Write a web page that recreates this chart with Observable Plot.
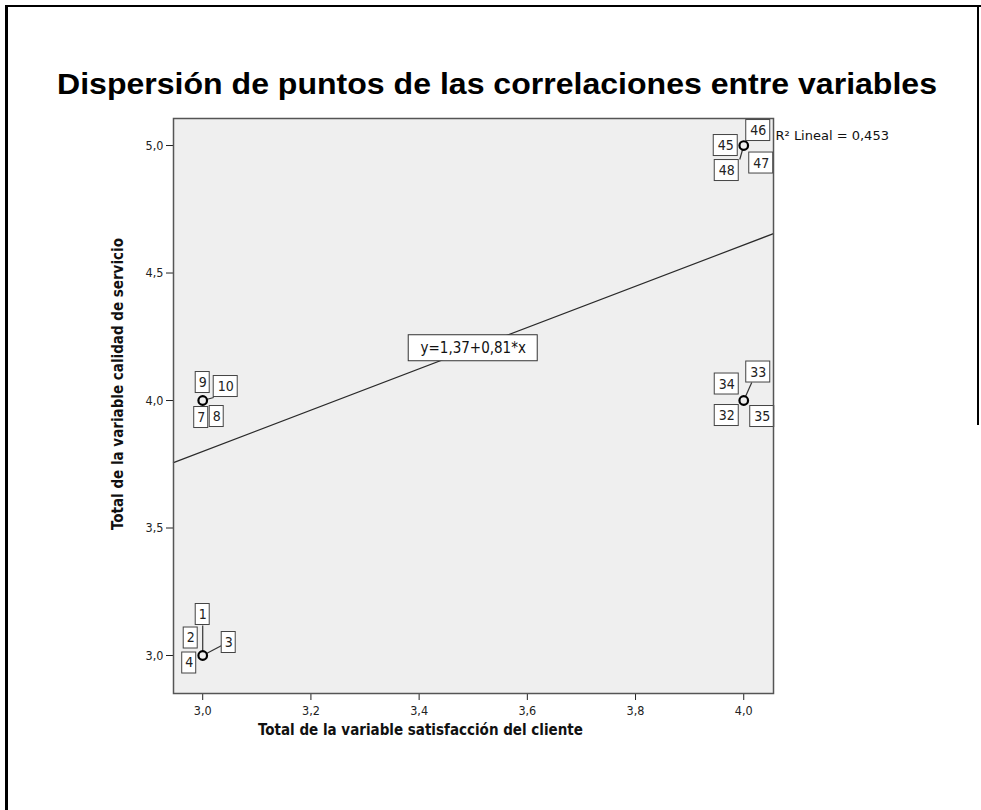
<!DOCTYPE html>
<html>
<head>
<meta charset="utf-8">
<script src="https://cdn.jsdelivr.net/npm/d3@7"></script>
<script src="https://cdn.jsdelivr.net/npm/@observablehq/plot@0.6"></script>
<style>
  html, body { margin: 0; padding: 0; background: #fff; }
  #page { position: relative; width: 981px; height: 810px; overflow: hidden; }
  #title { position: absolute; left: 57px; top: 69px; font-family: "Liberation Sans", Arial, sans-serif;
           font-weight: bold; font-size: 30px; line-height: 30px; color: #000; white-space: nowrap;
           transform-origin: 0 0; }
  .bl { position: absolute; background: #000; }
  #chart { position: absolute; left: 0; top: 0; }
  #chart g[aria-label*="axis"] text {
    font-size: 12.5px !important;
    font-family: 'DejaVu Sans Condensed', 'DejaVu Sans', sans-serif !important;
    fill: #222;
  }
</style>
</head>
<body>
<div id="page">
  <div class="bl" style="left:5px; top:5px; width:3px; height:805px;"></div>
  <div class="bl" style="left:5px; top:5px; width:976px; height:2px;"></div>
  <div class="bl" style="left:977px; top:5px; width:2px; height:420px;"></div>
  <div id="chart"></div>
  <div id="title"></div>
</div>
<script>
// ---- Data ----
const titleText = "Dispersión de puntos de las correlaciones entre variables";
const xTitle = "Total de la variable satisfacción del cliente";
const yTitle = "Total de la variable calidad de servicio";
const xTicks = [3.0, 3.2, 3.4, 3.6, 3.8, 4.0];
const yTicks = [3.0, 3.5, 4.0, 4.5, 5.0];
const pointX = [3, 3, 4, 4];
const pointY = [3, 4, 4, 5];
const caseIds = [1, 2, 3, 4, 7, 8, 9, 10, 32, 33, 34, 35, 45, 46, 47, 48];
const caseX   = [3, 3, 3, 3, 3, 3, 3, 3, 4, 4, 4, 4, 4, 4, 4, 4];
const caseY   = [3, 3, 3, 3, 4, 4, 4, 4, 4, 4, 4, 4, 5, 5, 5, 5];
const intercept = 1.37;
const slope = 0.81;
const r2 = 0.453;

// ---- Layout (pixel offsets of case label boxes relative to their point) ----
const labelOffsets = {
  1: [0, -41], 2: [-12, -17.5], 3: [26, -13], 4: [-13.5, 7.5],
  7: [-1.5, 17], 8: [14, 16], 9: [0, -18], 10: [23, -14],
  32: [-17, 15], 33: [14.5, -28.5], 34: [-17, -16.5], 35: [18.5, 16],
  45: [-18, 0], 46: [14.5, -15], 47: [17.5, 17.5], 48: [-17, 25]
};
const leaderEnds = { 1: [0, -30], 3: [19, -10], 10: [11, -3], 33: [8, -18], 46: [3, -4], 48: [-4, 14] };

const W = 981, H = 810;
const M = { left: 173, right: 208, top: 118, bottom: 117 };
const xDomain = [2.946, 4.055];
const yDomain = [2.851, 5.106];
// mirror of Plot's linear scales, used to turn pixel offsets into data offsets
const sx = d3.scaleLinear(xDomain, [M.left, W - M.right]);
const sy = d3.scaleLinear(yDomain, [H - M.bottom, M.top]);
const offX = (x, dpx) => sx.invert(sx(x) + dpx);
const offY = (y, dpx) => sy.invert(sy(y) + dpx);

const fmt = d => d.toFixed(1).replace(".", ",");

const points = pointX.map((x, i) => ({ x, y: pointY[i] }));
const cases = caseIds.map((id, i) => {
  const [dx, dy] = labelOffsets[id];
  const w = String(id).length > 1 ? 24 : 14, h = 21;
  const cx = offX(caseX[i], dx), cy = offY(caseY[i], dy);
  return {
    id, x: caseX[i], y: caseY[i], cx, cy,
    x1: offX(cx, -w / 2), x2: offX(cx, w / 2), y1: offY(cy, -h / 2), y2: offY(cy, h / 2)
  };
});
const leaders = cases.filter(c => leaderEnds[c.id]).map(c => ({
  x1: c.x, y1: c.y, x2: offX(c.x, leaderEnds[c.id][0]), y2: offY(c.y, leaderEnds[c.id][1])
}));

const fitLine = xDomain.map(x => ({ x, y: intercept + slope * x }));
const fitLabelX = 3.5;
const fitLabelY = intercept + slope * fitLabelX;
const fitText = "y=" + intercept.toFixed(2).replace(".", ",") + "+" + slope.toFixed(2).replace(".", ",") + "*x";
const fitBox = [{
  x1: offX(fitLabelX, -64.5), x2: offX(fitLabelX, 64.5),
  y1: offY(fitLabelY, -13), y2: offY(fitLabelY, 13)
}];
const r2Text = "R² Lineal = " + r2.toFixed(3).replace(".", ",");

const fontC = "'DejaVu Sans Condensed', 'DejaVu Sans', Verdana, sans-serif";
const font = "'DejaVu Sans', Verdana, sans-serif";

const chart = Plot.plot({
  width: W, height: H,
  marginLeft: M.left, marginRight: M.right, marginTop: M.top, marginBottom: M.bottom,
  style: { fontFamily: fontC, fontSize: "12.5px", background: "transparent", color: "#222", overflow: "visible" },
  x: { domain: xDomain, ticks: xTicks, tickFormat: fmt, tickSize: 7, tickPadding: 6, label: null },
  y: { domain: yDomain, ticks: yTicks, tickFormat: fmt, tickSize: 7, tickPadding: 3, label: null },
  marks: [
    Plot.frame({ fill: "#efefef", stroke: "none" }),
    Plot.line(fitLine, { x: "x", y: "y", stroke: "#2a2a2a", strokeWidth: 1.2 }),
    Plot.rect(fitBox, { x1: "x1", x2: "x2", y1: "y1", y2: "y2", fill: "#fff", stroke: "#333", strokeWidth: 1 }),
    Plot.text([fitText], { x: fitLabelX, y: fitLabelY, fontSize: 15, fill: "#111", textAnchor: "middle", lineAnchor: "middle" }),
    Plot.link(leaders, { x1: "x1", y1: "y1", x2: "x2", y2: "y2", stroke: "#333", strokeWidth: 1.2 }),
    Plot.rect(cases, { x1: "x1", x2: "x2", y1: "y1", y2: "y2", fill: "#fff", stroke: "#444", strokeWidth: 1 }),
    Plot.text(cases, { x: "cx", y: "cy", text: d => String(d.id), fontSize: 14, fill: "#222", textAnchor: "middle", lineAnchor: "middle" }),
    Plot.dot(points, { x: "x", y: "y", r: 4.3, stroke: "#000", strokeWidth: 2.2, fill: "#efefef" }),
    Plot.frame({ stroke: "#555", strokeWidth: 1.5 }),
    Plot.text([r2Text], { x: xDomain[1], y: yDomain[1], dx: 2, dy: 17, textAnchor: "start", fontSize: 13, fontFamily: font, fill: "#111" }),
    Plot.text([xTitle], { frameAnchor: "bottom", dx: -53, dy: 41, textAnchor: "middle", fontWeight: "bold", fontSize: 15, fill: "#111" }),
    Plot.text([yTitle], { frameAnchor: "left", dx: -55, dy: -22, textAnchor: "middle", rotate: -90, fontWeight: "bold", fontSize: 15, fill: "#111" })
  ]
});
document.getElementById("chart").appendChild(chart);
// enlarge tick labels whatever structure the axes use
d3.select(chart).selectAll('g[aria-label*="axis"]').attr("font-size", 12.5).selectAll("text").attr("font-size", 12.5);
const t = document.getElementById("title");
t.textContent = titleText;
const tw = t.getBoundingClientRect().width;
t.style.transform = `scaleX(${880 / tw})`;
</script>
</body>
</html>
